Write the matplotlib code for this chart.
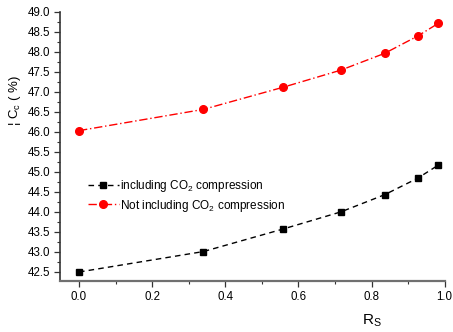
import matplotlib
matplotlib.use("Agg")
import matplotlib.pyplot as plt
from matplotlib.ticker import MultipleLocator

# Data
rs = [0.0, 0.34, 0.557, 0.716, 0.836, 0.926, 0.983]
eff_incl = [42.50, 43.01, 43.57, 44.00, 44.43, 44.84, 45.17]
eff_not = [46.03, 46.56, 47.11, 47.54, 47.96, 48.39, 48.71]

x_ticks = [0.0, 0.2, 0.4, 0.6, 0.8, 1.0]
y_ticks = [42.5, 43.0, 43.5, 44.0, 44.5, 45.0, 45.5, 46.0, 46.5, 47.0, 47.5, 48.0, 48.5, 49.0]

plt.rcParams["font.family"] = ["Liberation Sans", "DejaVu Sans"]
plt.rcParams["mathtext.fontset"] = "custom"
plt.rcParams["mathtext.rm"] = "Liberation Sans"

fig = plt.figure(figsize=(4.53, 3.32), dpi=100, facecolor="white")
ax = fig.add_axes([0.1325, 0.1536, 0.849, 0.8112])

ax.plot(rs, eff_incl, linestyle=(0, (4, 3)), color="black", linewidth=1.0,
        marker="s", markersize=4.5, label="including CO$_2$ compression")
ax.plot(rs, eff_not, linestyle=(0, (6, 2, 1, 2)), color="red", linewidth=1.0,
        marker="o", markersize=5.5, label="Not including CO$_2$ compression")

ax.set_xlim(-0.052, 1.0)
ax.set_ylim(42.275, 49.0)
ax.set_xticks(x_ticks)
ax.set_yticks(y_ticks)
ax.xaxis.set_minor_locator(MultipleLocator(0.1))
ax.yaxis.set_minor_locator(MultipleLocator(0.25))
ax.tick_params(which="major", length=4, width=0.9, labelsize=8.3, colors="#333333",
               labelcolor="black", pad=3)
ax.tick_params(which="minor", length=2.5, width=0.8, colors="#333333")

ax.spines["top"].set_visible(False)
ax.spines["right"].set_visible(False)
ax.spines["left"].set_color("#333333")
ax.spines["bottom"].set_color("#707070")
ax.spines["left"].set_linewidth(1.2)
ax.spines["bottom"].set_linewidth(1.6)

ax.set_xlabel("R$_\\mathregular{S}$", fontsize=11)
ax.xaxis.set_label_coords(0.81, -0.115)
ax.set_ylabel("\u00a6 C$_\\mathregular{c}$ ( %)", fontsize=9.5)
ax.yaxis.set_label_coords(-0.095, 0.67)

ax.legend(loc="upper left", bbox_to_anchor=(0.06, 0.40), frameon=False,
          fontsize=8.5, handlelength=2.6, handletextpad=0.1, labelspacing=0.3,
          borderaxespad=0)

fig.savefig("out.png", dpi=100, facecolor="white")
